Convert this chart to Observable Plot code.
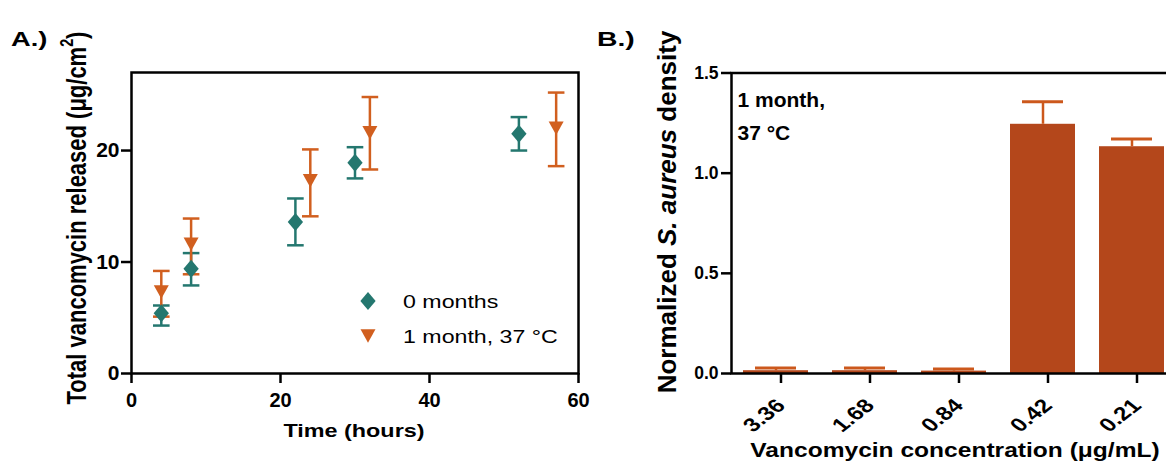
<!DOCTYPE html>
<html>
<head>
<meta charset="utf-8">
<script src="https://cdn.jsdelivr.net/npm/d3@7"></script>
<script src="https://cdn.jsdelivr.net/npm/@observablehq/plot@0.6"></script>
<style>
  html, body { margin: 0; padding: 0; background: #fff; }
  #wrap { position: relative; width: 1166px; height: 471px; overflow: hidden; background: #fff;
          font-family: "Liberation Sans", Arial, sans-serif; }
  #wrap svg { position: absolute; top: 0; }
</style>
</head>
<body>
<div id="wrap"></div>
<script>
// ---------- Panel A data ----------
const seriesNames = ["0 months", "1 month, 37 °C"];
const hours0 = [4, 8, 22, 30, 52];
const mean0  = [5.4, 9.4, 13.6, 18.9, 21.5];
const low0   = [4.3, 7.9, 11.5, 17.5, 20.0];
const high0  = [6.1, 10.8, 15.7, 20.3, 23.0];
const hours1 = [4, 8, 24, 32, 57];
const mean1  = [7.3, 11.6, 17.3, 21.6, 22.0];
const low1   = [5.1, 8.9, 14.1, 18.3, 18.6];
const high1  = [9.2, 13.9, 20.1, 24.8, 25.2];
const xTicksA = [0, 20, 40, 60];
const yTicksA = [0, 10, 20];

// ---------- Panel B data ----------
const concLabels = ["3.36", "1.68", "0.84", "0.42", "0.21"];
const density    = [0.014, 0.014, 0.012, 1.244, 1.132];
const densityErr = [0.013, 0.013, 0.010, 0.112, 0.038];
const yTicksB = [0, 0.5, 1.0, 1.5];

const teal = "#24776f";
const orange = "#d15f1f";
const barFill = "#b4471b";
const barErr = "#cc581c";
const FONT = '"Liberation Sans", Arial, sans-serif';

const ptsA0 = hours0.map((t, i) => ({t, m: mean0[i], lo: low0[i], hi: high0[i]}));
const ptsA1 = hours1.map((t, i) => ({t, m: mean1[i], lo: low1[i], hi: high1[i]}));
const rowsB = concLabels.map((c, i) => ({c, v: density[i], hi: density[i] + densityErr[i]}));

// custom symbols
const diamondSym = {draw(ctx, size) { const r = Math.sqrt(size / Math.PI);
  ctx.moveTo(0, -r); ctx.lineTo(0.85 * r, 0); ctx.lineTo(0, r); ctx.lineTo(-0.85 * r, 0); ctx.closePath(); }};
const triDownSym = {draw(ctx, size) { const r = Math.sqrt(size / Math.PI);
  ctx.moveTo(-r, -0.9 * r); ctx.lineTo(r, -0.9 * r); ctx.lineTo(0, 0.9 * r); ctx.closePath(); }};
const capSym = {draw(ctx, size) { const r = Math.sqrt(size / Math.PI);
  ctx.moveTo(-r, 0); ctx.lineTo(r, 0); }};

function errMarks(data, color) {
  return [
    Plot.ruleX(data, {x: "t", y1: "lo", y2: "hi", stroke: color, strokeWidth: 2.5}),
    Plot.dot(data, {x: "t", y: "lo", symbol: capSym, r: 8.3, stroke: color, fill: "none", strokeWidth: 2.5}),
    Plot.dot(data, {x: "t", y: "hi", symbol: capSym, r: 8.3, stroke: color, fill: "none", strokeWidth: 2.5})
  ];
}

const WA = 595;
const chartA = Plot.plot({
  width: WA, height: 471,
  marginLeft: 131, marginRight: WA - 578, marginTop: 72, marginBottom: 98,
  style: {fontFamily: FONT, color: "#000", background: "transparent", overflow: "visible"},
  x: {domain: [0, 60]},
  y: {domain: [0, 27]},
  marks: [
    ...errMarks(ptsA0, teal),
    ...errMarks(ptsA1, orange),
    Plot.dot(ptsA0, {x: "t", y: "m", symbol: diamondSym, r: 9, fill: teal, stroke: "none"}),
    Plot.dot(ptsA1, {x: "t", y: "m", symbol: triDownSym, r: 7.5, fill: orange, stroke: "none"}),
    Plot.axisX({ticks: xTicksA, tickSize: 10, tickPadding: 9, fontSize: 20, fontWeight: "bold", strokeWidth: 2.5, label: null}),
    Plot.axisY({ticks: yTicksA, tickSize: 10, tickPadding: 2, fontSize: 21, fontWeight: "bold", strokeWidth: 2.5, label: null}),
    Plot.frame({stroke: "#000", strokeWidth: 2.5})
  ]
});
chartA.style.left = "0px";

const WB = 600, leftB = 590;
const chartB = Plot.plot({
  width: WB, height: 471,
  marginLeft: 731 - leftB, marginRight: WB - (1176 - leftB), marginTop: 72.5, marginBottom: 98,
  style: {fontFamily: FONT, color: "#000", background: "transparent", overflow: "visible"},
  x: {domain: concLabels, paddingInner: 0.265, paddingOuter: 0.1325},
  y: {domain: [0, 1.5]},
  marks: [
    Plot.barY(rowsB, {x: "c", y: "v", fill: barFill}),
    Plot.ruleX(rowsB, {x: "c", y1: "v", y2: "hi", stroke: barErr, strokeWidth: 2.5}),
    Plot.tickY(rowsB, {x: "c", y: "hi", stroke: barErr, strokeWidth: 3, insetLeft: 12, insetRight: 12}),
    Plot.axisX({tickSize: 10, tickPadding: 19, tickRotate: -45, dx: 5, fontSize: 19, fontWeight: "bold", strokeWidth: 2.5, label: null}),
    Plot.axisY({ticks: yTicksB, tickFormat: d3.format(".1f"), tickSize: 10, tickPadding: 3, fontSize: 17.5, fontWeight: "bold", strokeWidth: 2.5, label: null}),
    Plot.text(["1 month,\n37 °C"], {frameAnchor: "top-left", dx: 6, dy: 10, fontSize: 21, fontWeight: "bold", lineHeight: 1.6, textAnchor: "start"}),
    Plot.frame({stroke: "#000", strokeWidth: 2.5})
  ]
});
chartB.style.left = leftB + "px";

const wrap = document.getElementById("wrap");
wrap.appendChild(chartA);
wrap.appendChild(chartB);

// widen the rotated tick labels horizontally, as in the reference
function stretchText(svg, selector, s) {
  svg.querySelectorAll(selector).forEach(t => {
    let tr = t.getAttribute("transform");
    if (tr == null) {
      const x = +t.getAttribute("x") || 0, y = +t.getAttribute("y") || 0;
      t.removeAttribute("x"); t.removeAttribute("y");
      tr = `translate(${x},${y})`;
    }
    tr = /rotate/.test(tr) ? tr.replace(/rotate/, `scale(${s},1) rotate`) : tr + ` scale(${s},1)`;
    t.setAttribute("transform", tr);
  });
}
stretchText(chartB, 'g[aria-label="x-axis tick label"] text', 1.28);

// ---------- titles and legend ----------
const sA = d3.select(chartA);
sA.append("text").attr("transform", "translate(11,46) scale(1.3,1)").attr("text-anchor", "start")
  .attr("font-size", 21).attr("font-weight", "bold").text("A.)");
const tA = sA.append("text").attr("transform", "translate(86,218) scale(1.28,1) rotate(-90)")
  .attr("text-anchor", "middle").attr("font-size", 22).attr("font-weight", "bold");
tA.append("tspan").text("Total vancomycin released (μg/cm");
tA.append("tspan").attr("dy", "-0.7em").attr("font-size", "0.65em").text("2");
tA.append("tspan").attr("dy", "0.45em").text(")");
sA.append("text").attr("transform", "translate(354,437) scale(1.23,1)").attr("text-anchor", "middle")
  .attr("font-size", 19).attr("font-weight", "bold").text("Time (hours)");

// legend
const legend = [
  {sym: diamondSym, size: Math.PI * 81, color: teal, y: 301, label: seriesNames[0]},
  {sym: triDownSym, size: Math.PI * 56, color: orange, y: 336, label: seriesNames[1]}
];
legend.forEach(L => {
  sA.append("path").attr("d", d3.symbol(L.sym, L.size)()).attr("transform", `translate(368,${L.y})`).attr("fill", L.color);
  sA.append("text").attr("transform", `translate(403,${L.y + 6.5}) scale(1.22,1)`).attr("text-anchor", "start")
    .attr("font-size", 19).text(L.label);
});

const sB = d3.select(chartB);
sB.append("text").attr("transform", `translate(${597 - leftB},46) scale(1.35,1)`).attr("text-anchor", "start")
  .attr("font-size", 21).attr("font-weight", "bold").text("B.)");
const tB = sB.append("text").attr("transform", `translate(${676 - leftB},212) rotate(-90)`)
  .attr("text-anchor", "middle").attr("font-size", 26).attr("font-weight", "bold");
tB.append("tspan").text("Normalized ");
tB.append("tspan").attr("font-style", "italic").text("S. aureus");
tB.append("tspan").text(" density");
sB.append("text").attr("transform", `translate(${955 - leftB},457) scale(1.26,1)`).attr("text-anchor", "middle")
  .attr("font-size", 19.5).attr("font-weight", "bold").text("Vancomycin concentration (μg/mL)");
</script>
</body>
</html>
